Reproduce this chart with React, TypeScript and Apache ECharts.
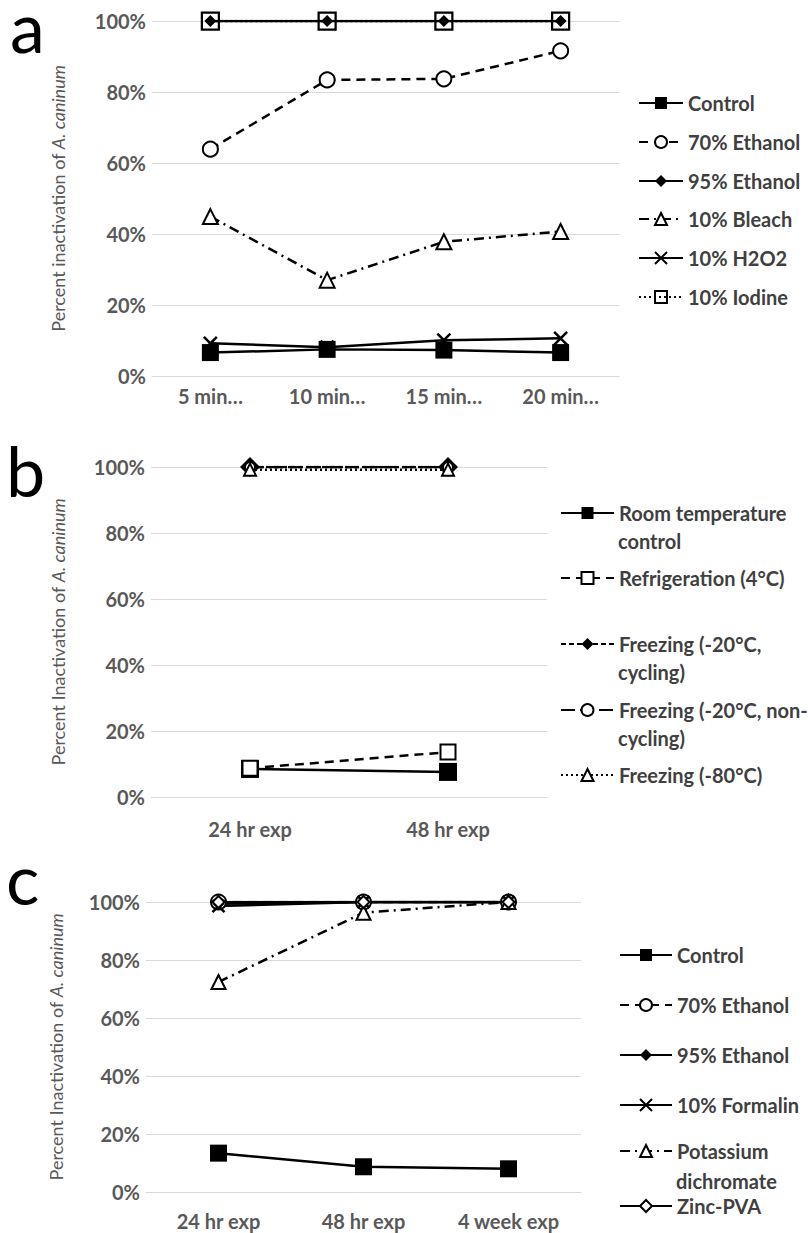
import React, { useEffect, useRef } from 'react';
import * as echarts from 'echarts';

// ---------- data ----------
const catsA = ['5 min…', '10 min…', '15 min…', '20 min…'];
const aControl = [6.6, 7.5, 7.3, 6.6];
const aEth70 = [63.9, 83.4, 83.7, 91.6];
const aEth95 = [100, 100, 100, 100];
const aBleach = [44.9, 27.0, 37.8, 40.7];
const aH2O2 = [9.2, 8.1, 10.1, 10.6];
const aIodine = [100, 100, 100, 100];

const catsB = ['24 hr exp', '48 hr exp'];
const bRoom = [8.5, 7.6];
const bFridge = [8.7, 13.6];
const bFreezeCyc = [100, 100];
const bFreezeNon = [100, 100];
const bFreeze80 = [99.2, 99.2];

const catsC = ['24 hr exp', '48 hr exp', '4 week exp'];
const cControl = [13.4, 8.7, 8.0];
const cEth70 = [100, 100, 100];
const cEth95 = [99.4, 100, 100];
const cFormalin = [98.6, 100, 100];
const cDichromate = [72.4, 96.3, 100];
const cZinc = [100, 100, 100];

const yTitleA = 'Percent inactivation of {i|A. caninum}';
const yTitleBC = 'Percent Inactivation of {i|A. caninum}';

// ---------- styles ----------
const FONT = 'Lato, "Noto Sans", sans-serif';
const TICK = '#595959';
const LEG = '#404040';
const GRID = '#d9d9d9';
const XPATH = 'path://M0,0L10,10M10,0L0,10';

function mk(name: string, data: number[], g: number, symbol: string, size: number, dash: any, kind: 'fill' | 'empty' | 'clear' | 'x') {
  let itemStyle: any;
  if (kind === 'fill') itemStyle = { color: '#000', borderColor: '#000', borderWidth: 0 };
  else if (kind === 'empty') itemStyle = { color: '#000', borderColor: '#000', borderWidth: 2 };
  else if (kind === 'clear') itemStyle = { color: 'rgba(0,0,0,0)', borderColor: '#000', borderWidth: 2.25 };
  else itemStyle = { color: '#000', borderColor: '#000', borderWidth: 2.5 };
  return {
    type: 'line',
    name,
    data,
    xAxisIndex: g,
    yAxisIndex: g,
    symbol,
    symbolSize: size,
    showAllSymbol: true,
    lineStyle: { color: '#000', width: 2.5, type: dash },
    itemStyle,
    emphasis: { disabled: true },
    silent: true,
  };
}

const DASH = [9, 6];
const DASHDOT = [10, 5, 2, 5];
const DOT = [2, 3];

const series = [
  mk('Control', aControl, 0, 'rect', 17, 'solid', 'fill'),
  mk('70% Ethanol', aEth70, 0, 'emptyCircle', 15, DASH, 'empty'),
  mk('95% Ethanol', aEth95, 0, 'diamond', 12, 'solid', 'fill'),
  mk('10% Bleach', aBleach, 0, 'emptyTriangle', 15, DASHDOT, 'empty'),
  mk('10% H2O2', aH2O2, 0, XPATH, 13, 'solid', 'x'),
  mk('10% Iodine', aIodine, 0, 'rect', 17, DOT, 'clear'),

  mk('Room temperature control', bRoom, 1, 'rect', 18, 'solid', 'fill'),
  mk('Refrigeration (4°C)', bFridge, 1, 'emptyRect', 15, DASH, 'empty'),
  mk('Freezing (-20°C, cycling)', bFreezeCyc, 1, 'diamond', 20, [5, 3], 'fill'),
  mk('Freezing (-20°C, non-cycling)', bFreezeNon, 1, 'emptyCircle', 10, [14, 5], 'empty'),
  mk('Freezing (-80°C)', bFreeze80, 1, 'emptyTriangle', 12, DOT, 'empty'),

  mk('Control', cControl, 2, 'rect', 17, 'solid', 'fill'),
  mk('70% Ethanol', cEth70, 2, 'emptyCircle', 15, DASH, 'empty'),
  mk('95% Ethanol', cEth95, 2, 'diamond', 12, 'solid', 'fill'),
  mk('10% Formalin', cFormalin, 2, XPATH, 12, 'solid', 'x'),
  mk('Potassium dichromate', cDichromate, 2, 'emptyTriangle', 14, DASHDOT, 'empty'),
  mk('Zinc-PVA', cZinc, 2, 'emptyDiamond', 12, 'solid', 'empty'),
];

// legend layout
const legendA = ['Control', '70% Ethanol', '95% Ethanol', '10% Bleach', '10% H2O2', '10% Iodine'];
const legendAY = [103, 142, 181, 219, 258, 297];
const legendB = ['Room temperature control', 'Refrigeration (4°C)', 'Freezing (-20°C, cycling)', 'Freezing (-20°C, non-cycling)', 'Freezing (-80°C)'];
const legendBFirst = ['Room temperature', 'Refrigeration (4°C)', 'Freezing (-20°C,', 'Freezing (-20°C, non-', 'Freezing (-80°C)'];
const legendBSecond = ['control', '', 'cycling)', 'cycling)', ''];
const legendBY = [513, 578, 644, 710, 775];
const legendC = ['Control', '70% Ethanol', '95% Ethanol', '10% Formalin', 'Potassium dichromate', 'Zinc-PVA'];
const legendCFirst = ['Control', '70% Ethanol', '95% Ethanol', '10% Formalin', 'Potassium', 'Zinc-PVA'];
const legendCSecond = ['', '', '', '', 'dichromate', ''];
const legendCY = [955, 1005, 1055, 1105, 1151, 1206];

const LEG_FS = 20;
const LEG_LH = 24;

function legendItem(name: string, label: string, left: number, cy: number, w: number) {
  return {
    show: true,
    orient: 'vertical',
    left,
    top: cy - LEG_LH / 2,
    padding: 0,
    itemWidth: w,
    itemHeight: 15,
    selectedMode: false,
    data: [name],
    formatter: () => label,
    textStyle: { fontFamily: FONT, fontSize: LEG_FS, fontWeight: 'bold', color: LEG, lineHeight: LEG_LH },
  };
}

const legends: any[] = [];
legendA.forEach((n, i) => legends.push(legendItem(n, n, 638, legendAY[i], 44)));
legendB.forEach((n, i) => legends.push(legendItem(n, legendBFirst[i], 560, legendBY[i], 53)));
legendC.forEach((n, i) => legends.push(legendItem(n, legendCFirst[i], 619, legendCY[i], 52)));

const graphics: any[] = [];
const contText = (text: string, x: number, y: number) => ({
  type: 'text',
  style: { text, x, y, fill: LEG, font: `bold ${LEG_FS}px ${FONT}`, textVerticalAlign: 'middle', textAlign: 'left' },
  silent: true,
});
legendBSecond.forEach((t, i) => { if (t) graphics.push(contText(t, 618, legendBY[i] + 28)); });
legendCSecond.forEach((t, i) => { if (t) graphics.push(contText(t, 676, legendCY[i] + 30)); });

const panelLetter = (t: string, x: number, y: number) => ({
  type: 'text',
  style: { text: t, x, y, fill: '#000', font: `70px ${FONT}`, lineHeight: 46, textVerticalAlign: 'middle', textAlign: 'left' },
  silent: true,
});
graphics.push(panelLetter('a', 10, 26));
graphics.push(panelLetter('b', 6, 470));
graphics.push(panelLetter('c', 6, 878));

const grids = [
  { left: 152, top: 21, width: 467, height: 355 },
  { left: 151, top: 467, width: 396, height: 330 },
  { left: 146, top: 902, width: 435, height: 290 },
];
const cats = [catsA, catsB, catsC];
const xMargins = [10, 22, 19];
const nameGaps = [85, 84, 81];
const yTitles = [yTitleA, yTitleBC, yTitleBC];

const xAxes = cats.map((c, i) => ({
  type: 'category',
  gridIndex: i,
  data: c,
  boundaryGap: true,
  axisLine: { show: true, lineStyle: { color: GRID, width: 1 } },
  axisTick: { show: false },
  axisLabel: { interval: 0, margin: xMargins[i], fontFamily: FONT, fontSize: 20, fontWeight: 'bold', color: TICK },
  splitLine: { show: false },
}));

const yAxes = grids.map((_, i) => ({
  type: 'value',
  gridIndex: i,
  min: 0,
  max: 100,
  interval: 20,
  axisLine: { show: false },
  axisTick: { show: false },
  axisLabel: { formatter: '{value}%', margin: 6, fontFamily: FONT, fontSize: 20, fontWeight: 'bold', color: TICK },
  splitLine: { show: true, lineStyle: { color: GRID, width: 1 } },
  name: yTitles[i],
  nameLocation: 'middle',
  nameGap: nameGaps[i],
  nameTextStyle: {
    fontFamily: FONT,
    fontSize: 18,
    color: TICK,
    rich: { i: { fontFamily: FONT, fontSize: 18, color: TICK, fontStyle: 'italic' } },
  },
}));

const option: any = {
  animation: false,
  backgroundColor: '#fff',
  grid: grids.map((g) => ({ ...g, containLabel: false, outerBoundsMode: 'none' })),
  xAxis: xAxes,
  yAxis: yAxes,
  legend: legends,
  series,
  graphic: graphics,
};

export default function App() {
  const ref = useRef<HTMLDivElement>(null);
  useEffect(() => {
    const chart = echarts.init(ref.current!, null, { renderer: 'svg' });
    chart.setOption(option);
    return () => chart.dispose();
  }, []);
  return (
    <div
      ref={ref}
      style={{ position: 'absolute', left: 0, top: 0, width: 808, height: 1233, background: '#fff' }}
    />
  );
}
